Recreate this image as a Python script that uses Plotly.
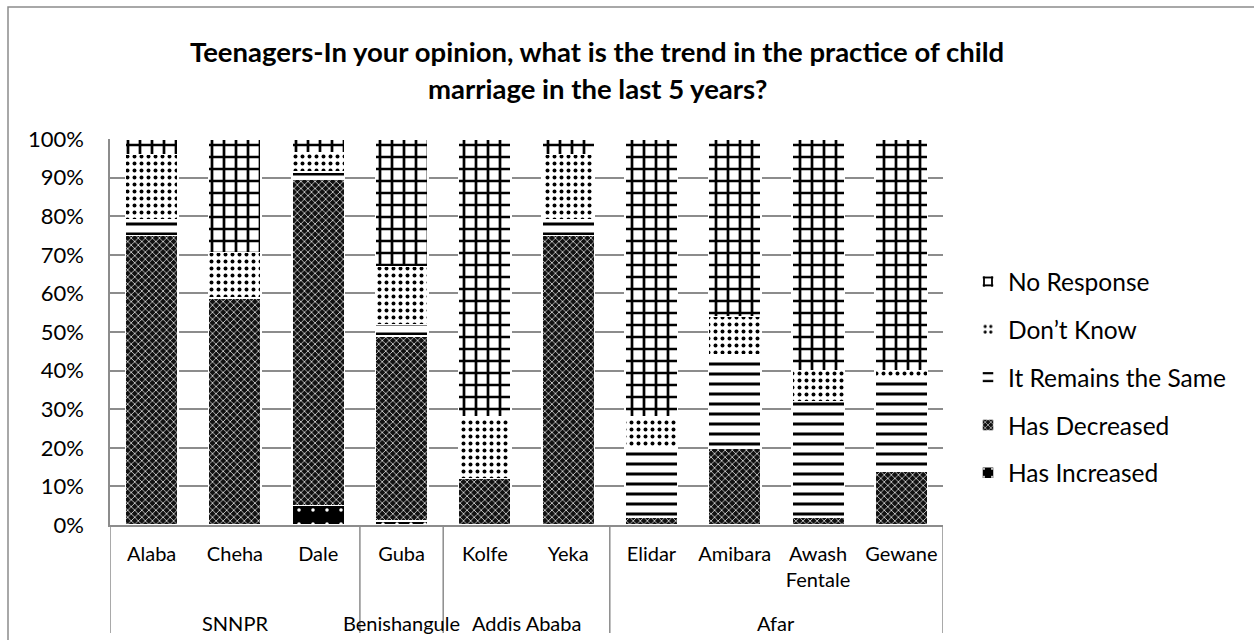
import plotly.graph_objects as go

# Woredas (bar categories) and the region each belongs to
districts = ["Alaba", "Cheha", "Dale", "Guba", "Kolfe", "Yeka",
             "Elidar", "Amibara", "Awash Fentale", "Gewane"]
district_labels = ["Alaba", "Cheha", "Dale", "Guba", "Kolfe", "Yeka",
                   "Elidar", "Amibara", "Awash<br>Fentale", "Gewane"]
regions = ["SNNPR", "Benishangule", "Addis Ababa", "Afar"]
region_spans = [(0, 2), (3, 3), (4, 5), (6, 9)]

# Share of teenage respondents per answer (%)
has_increased = [0, 0, 5, 1, 0, 0, 0, 0, 0, 0]
has_decreased = [75, 58.8, 84.5, 48, 12, 75, 2, 20, 2, 14]
remains_same = [4, 0, 2, 3, 0, 4, 18, 24, 30, 24]
dont_know = [17, 11.8, 5, 15, 16, 17, 8, 10, 8, 2]
no_response = [4, 29.4, 3.5, 33, 72, 4, 72, 46, 60, 60]

FONT = "Lato"
GRID = "#8c8c8c"

W, H = 1254, 640
L, R, T, B = 110, 311, 139, 115
PW, PH = W - L - R, H - T - B


def px_x(px):
    return (px - L) / PW


def px_y(py):
    return (H - B - py) / PH


series = [
    ("Has Increased", has_increased, dict(shape=".", bgcolor="#000000", fgcolor="#ffffff", size=14, solidity=0.05)),
    ("Has Decreased", has_decreased, dict(shape="x", bgcolor="#111111", fgcolor="#d8d8d8", size=5, solidity=0.3)),
    ("It Remains the Same", remains_same, dict(shape="-", bgcolor="#ffffff", fgcolor="#000000", size=10, solidity=0.3)),
    ("Don\u2019t Know", dont_know, dict(shape=".", bgcolor="#ffffff", fgcolor="#000000", size=7, solidity=0.25)),
    ("No Response", no_response, dict(shape="+", bgcolor="#ffffff", fgcolor="#000000", size=12, solidity=0.4)),
]

fig = go.Figure()
for rank, (name, vals, pat) in enumerate(series):
    fig.add_trace(go.Bar(
        x=districts, y=vals, name=name, legendgroup=name,
        legendrank=len(series) - rank,
        marker=dict(pattern=dict(fillmode="replace", **pat),
                    line=dict(color="#ffffff", width=1.5)),
    ))

shapes = []
# group dividers below the category axis
for xv in [-0.5, 2.5, 3.5, 5.5, 9.5]:
    shapes.append(dict(type="line", xref="x", yref="paper", x0=xv, x1=xv,
                       y0=0, y1=px_y(633), line=dict(color=GRID, width=1.5)))
# chart border
shapes.append(dict(type="rect", xref="paper", yref="paper",
                   x0=px_x(8), x1=px_x(1270), y0=px_y(7), y1=px_y(660),
                   line=dict(color=GRID, width=1.5)))

annotations = []
for name, (a, b) in zip(regions, region_spans):
    annotations.append(dict(text=name, xref="x", yref="paper", x=(a + b) / 2,
                            y=px_y(623), showarrow=False, yanchor="middle",
                            font=dict(family=FONT, size=20, color="#000000")))
title_lines = ["Teenagers-In your opinion, what is the trend in the practice of child",
               "marriage in the last 5 years?"]
for line, cy in zip(title_lines, [51, 88]):
    annotations.append(dict(text="<b>" + line + "</b>", xref="paper", yref="paper",
                            x=px_x(597), y=px_y(cy), showarrow=False,
                            xanchor="center", yanchor="middle",
                            font=dict(family=FONT, size=27.5, color="#000000")))

fig.update_layout(
    width=W, height=H,
    margin=dict(l=L, r=R, t=T, b=B),
    paper_bgcolor="#ffffff", plot_bgcolor="#ffffff",
    barmode="stack", bargap=0.37,
    font=dict(family=FONT, color="#000000"),
    shapes=shapes, annotations=annotations,
    legend=dict(x=px_x(968), y=px_y(259), xanchor="left", yanchor="top",
                traceorder="grouped", tracegroupgap=13,
                font=dict(family=FONT, size=24.5, color="#000000"),
                bgcolor="rgba(0,0,0,0)"),
    xaxis=dict(type="category", range=[-0.5, 9.5], tickmode="array",
               tickvals=districts, ticktext=district_labels,
               showline=True, linecolor=GRID, linewidth=1.5, ticks="",
               showgrid=False, ticklabelstandoff=10,
               tickfont=dict(family=FONT, size=20, color="#000000")),
    yaxis=dict(range=[0, 100], dtick=10, ticksuffix="%", showgrid=True,
               gridcolor=GRID, gridwidth=1.5, showline=True, linecolor=GRID,
               linewidth=1.5, ticks="", zeroline=False, ticklabelstandoff=20,
               tickfont=dict(family=FONT, size=22, color="#000000")),
)

fig.write_html("out.html")
